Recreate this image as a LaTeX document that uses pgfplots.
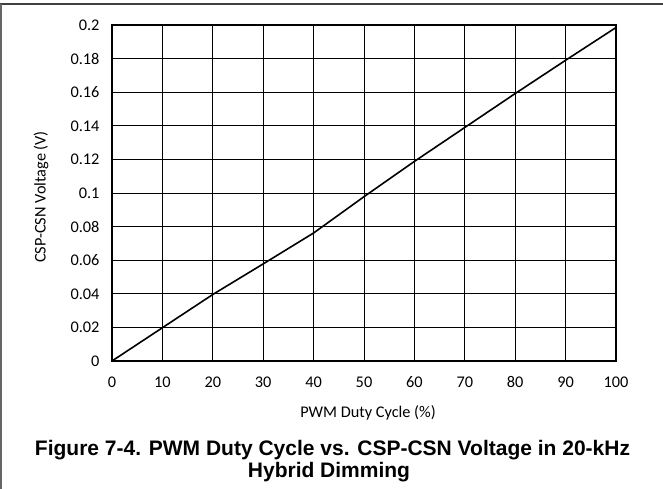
\documentclass[border=0pt]{standalone}
\usepackage{pgfplots}
\pgfplotsset{compat=1.18}
\usepackage{fontspec}
\setmainfont{Carlito}
\newfontfamily\capfont{Liberation Sans}
\begin{document}
\begin{tikzpicture}
\useasboundingbox (0bp,0bp) rectangle (663bp,489bp);
\draw[line width=1.2bp, black!75] (0bp,485bp) -- (663bp,485bp);
\draw[line width=1.2bp, black!60] (1bp,485bp) -- (1bp,0bp);
\begin{axis}[
  at={(112bp,128bp)}, anchor=south west,
  scale only axis, width=504bp, height=336bp,
  xmin=0, xmax=100, ymin=0, ymax=0.2,
  xtick={0,10,...,100},
  ytick={0,0.02,0.04,0.06,0.08,0.1,0.12,0.14,0.16,0.18,0.2},
  yticklabels={0,0.02,0.04,0.06,0.08,0.1,0.12,0.14,0.16,0.18,0.2},
  grid=major,
  major grid style={line width=0.9bp, black},
  axis line style={line width=1.6bp, black},
  major tick length=0pt,
  tick style={draw=none},
  /pgf/number format/assume math mode=true,
  ticklabel style={font=\fontsize{16.3bp}{19bp}\selectfont},
  xticklabel style={yshift=-12bp},
  yticklabel style={xshift=-9bp},
]
\addplot[line width=1.6bp, black, no marks] coordinates {
(0,0) (10,0.0198) (20,0.0396) (30,0.0578) (40,0.0762) (50,0.0978) (60,0.1188) (70,0.1390) (80,0.1592) (90,0.1790) (100,0.1985)
};
\end{axis}
\node[font=\fontsize{16.3bp}{19bp}\selectfont] at (368bp,76bp) {PWM Duty Cycle (\%)};
\node[font=\fontsize{16.3bp}{19bp}\selectfont, rotate=90] at (41bp,292bp) {CSP-CSN Voltage (V)};
\node[font=\capfont\bfseries\fontsize{21bp}{23bp}\selectfont, anchor=base] at (332.5bp,34bp) {Figure 7-4. PWM Duty Cycle vs. CSP-CSN Voltage in 20-kHz};
\node[font=\capfont\bfseries\fontsize{21bp}{23bp}\selectfont, anchor=base] at (329bp,11.3bp) {Hybrid Dimming};
\end{tikzpicture}
\end{document}
